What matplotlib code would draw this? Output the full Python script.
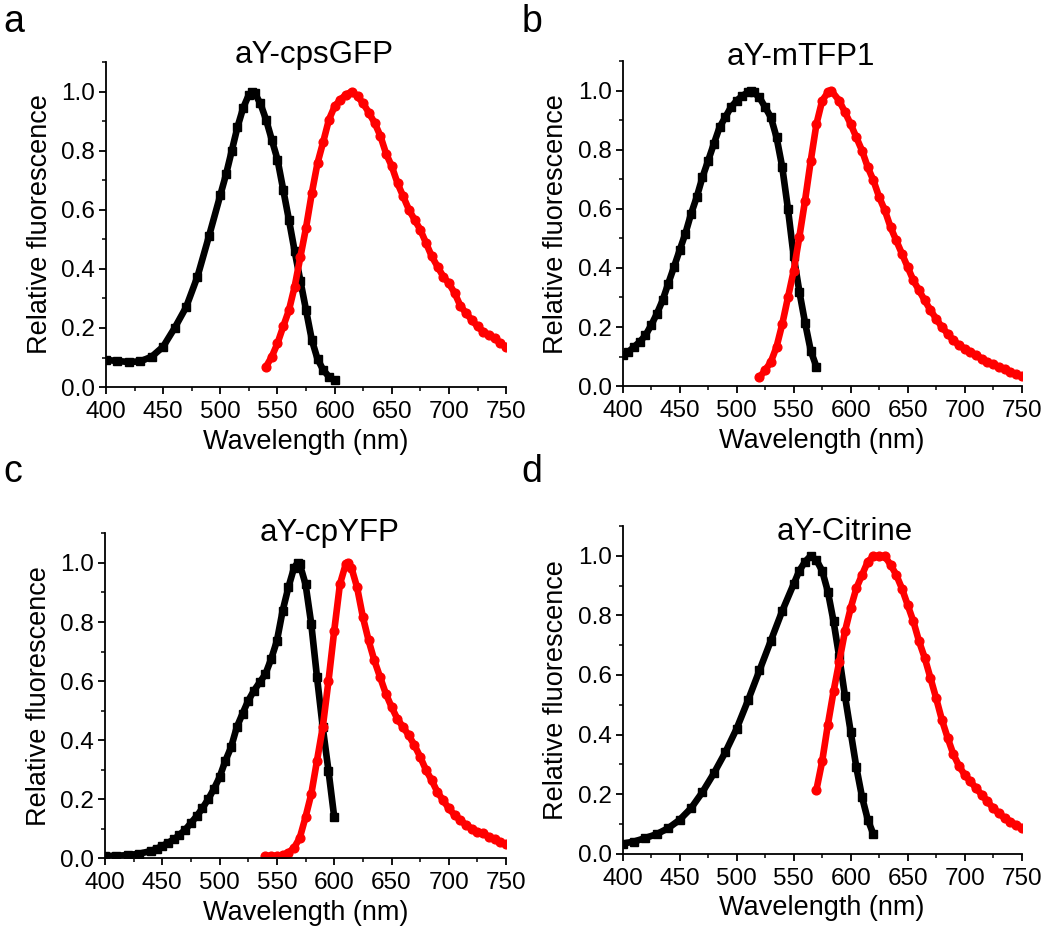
import matplotlib.pyplot as plt
import numpy as np

plt.rcParams['font.family'] = ['Liberation Sans', 'DejaVu Sans']

# ---- data (wavelength nm, relative fluorescence) ----
# a: aY-cpsGFP
a_ex_wl = [400, 410, 420, 430, 440, 450, 460, 470, 480, 490, 500, 505, 510, 515, 520, 525, 528,
           530, 535, 540, 545, 550, 555, 560, 565, 570, 575, 580, 585, 590, 595, 600]
a_ex = [0.092, 0.088, 0.085, 0.087, 0.103, 0.137, 0.2, 0.27, 0.374, 0.51, 0.65, 0.72, 0.8, 0.88, 0.945, 0.99, 1.0,
        0.995, 0.96, 0.905, 0.837, 0.77, 0.668, 0.566, 0.46, 0.36, 0.26, 0.16, 0.095, 0.058, 0.035, 0.024]
a_em_wl = [540, 545, 550, 555, 560, 565, 570, 575, 580, 585, 590, 595, 600, 605, 610, 615, 620,
           625, 630, 635, 640, 645, 650, 655, 660, 665, 670, 675, 680, 685, 690, 695, 700,
           705, 710, 715, 720, 725, 730, 735, 740, 745, 750]
a_em = [0.069, 0.103, 0.148, 0.205, 0.26, 0.34, 0.44, 0.54, 0.656, 0.758, 0.83, 0.905, 0.95, 0.973, 0.99, 1.0, 0.984,
        0.96, 0.928, 0.894, 0.85, 0.79, 0.747, 0.69, 0.645, 0.6, 0.566, 0.532, 0.487, 0.442, 0.408, 0.374, 0.351,
        0.318, 0.275, 0.25, 0.227, 0.205, 0.188, 0.176, 0.165, 0.148, 0.137]

# b: aY-mTFP1
b_ex_wl = [400, 405, 410, 415, 420, 425, 430, 435, 440, 445, 450, 455, 460, 465, 470, 475, 480,
           485, 490, 495, 500, 505, 510, 513, 515, 520, 525, 530, 535, 540, 545, 550, 555,
           560, 565, 570]
b_ex = [0.105, 0.116, 0.133, 0.15, 0.172, 0.206, 0.245, 0.29, 0.347, 0.403, 0.46, 0.516, 0.583, 0.64, 0.707, 0.763, 0.82,
        0.876, 0.91, 0.944, 0.966, 0.983, 0.994, 1.0, 0.994, 0.977, 0.944, 0.91, 0.842, 0.741, 0.6, 0.44, 0.32,
        0.215, 0.12, 0.065]
b_em_wl = [520, 525, 530, 535, 540, 545, 550, 555, 560, 565, 570, 575, 580, 583, 590, 595, 600,
           605, 610, 615, 620, 625, 630, 635, 640, 645, 650, 655, 660, 665, 670, 675, 680,
           685, 690, 695, 700, 705, 710, 715, 720, 725, 730, 735, 740, 745, 750]
b_em = [0.03, 0.054, 0.082, 0.133, 0.21, 0.3, 0.39, 0.505, 0.628, 0.763, 0.887, 0.966, 0.994, 1.0, 0.966, 0.927, 0.887,
        0.842, 0.797, 0.741, 0.696, 0.64, 0.595, 0.538, 0.493, 0.448, 0.403, 0.358, 0.324, 0.29, 0.257, 0.228, 0.2,
        0.178, 0.155, 0.139, 0.127, 0.116, 0.105, 0.093, 0.082, 0.074, 0.065, 0.059, 0.048, 0.04, 0.034]

# c: aY-cpYFP
c_ex_wl = [400, 410, 420, 430, 440, 445, 450, 455, 460, 465, 470, 475, 480, 485, 490, 495, 500,
           505, 510, 515, 520, 525, 530, 535, 540, 545, 550, 555, 560, 565, 568, 570, 575,
           580, 585, 590, 595, 600]
c_ex = [0.008, 0.009, 0.011, 0.016, 0.025, 0.033, 0.042, 0.053, 0.064, 0.08, 0.097, 0.12, 0.143, 0.17, 0.2, 0.235, 0.275,
        0.33, 0.376, 0.444, 0.49, 0.534, 0.568, 0.596, 0.624, 0.675, 0.736, 0.838, 0.917, 0.984, 1.0, 0.995, 0.928,
        0.793, 0.613, 0.444, 0.297, 0.14]
c_em_wl = [540, 545, 550, 555, 560, 565, 570, 575, 580, 585, 590, 595, 600, 605, 610, 612, 615,
           620, 625, 630, 635, 640, 645, 650, 655, 660, 665, 670, 675, 680, 685, 690, 695,
           700, 705, 710, 715, 720, 725, 730, 735, 740, 745, 750]
c_em = [0.008, 0.008, 0.009, 0.011, 0.019, 0.036, 0.07, 0.14, 0.218, 0.331, 0.444, 0.6, 0.77, 0.928, 0.995, 1.0, 0.984,
        0.917, 0.817, 0.738, 0.67, 0.614, 0.558, 0.513, 0.473, 0.445, 0.417, 0.383, 0.344, 0.3, 0.265, 0.225, 0.197,
        0.169, 0.147, 0.13, 0.113, 0.101, 0.09, 0.085, 0.073, 0.064, 0.056, 0.048]

# d: aY-Citrine
d_ex_wl = [400, 410, 420, 430, 440, 450, 460, 470, 480, 490, 500, 510, 520, 530, 540, 550, 555,
           560, 565, 570, 575, 580, 585, 590, 595, 600, 605, 610, 615, 620]
d_ex = [0.034, 0.041, 0.053, 0.066, 0.086, 0.114, 0.153, 0.207, 0.27, 0.34, 0.42, 0.515, 0.615, 0.715, 0.815, 0.905, 0.95,
        0.98, 1.0, 0.985, 0.95, 0.88, 0.78, 0.66, 0.53, 0.41, 0.29, 0.19, 0.115, 0.065]
d_em_wl = [570, 575, 580, 585, 590, 595, 600, 605, 610, 615, 620, 625, 630, 635, 640, 645, 650,
           655, 660, 665, 670, 675, 680, 685, 690, 695, 700, 705, 710, 715, 720, 725, 730,
           735, 740, 745, 750]
d_em = [0.215, 0.31, 0.433, 0.545, 0.645, 0.746, 0.824, 0.891, 0.936, 0.98, 0.998, 1.0, 0.998, 0.97, 0.936, 0.89, 0.835,
        0.78, 0.713, 0.657, 0.59, 0.522, 0.45, 0.39, 0.335, 0.295, 0.265, 0.243, 0.22, 0.198, 0.176, 0.153, 0.136,
        0.12, 0.108, 0.097, 0.088]

titles = ['aY-cpsGFP', 'aY-mTFP1', 'aY-cpYFP', 'aY-Citrine']
letters = ['a', 'b', 'c', 'd']

panels = [(a_ex_wl, a_ex, a_em_wl, a_em),
          (b_ex_wl, b_ex, b_em_wl, b_em),
          (c_ex_wl, c_ex, c_em_wl, c_em),
          (d_ex_wl, d_ex, d_em_wl, d_em)]

# axes boxes [left, bottom, width, height] in figure fractions
boxes = [[0.101, 0.582, 0.381, 0.351],
         [0.593, 0.583, 0.380, 0.351],
         [0.100, 0.073, 0.382, 0.351],
         [0.593, 0.078, 0.380, 0.354]]
title_pos = [(0.52, 0.997), (0.446, 0.988), (0.561, 0.978), (0.556, 0.957)]
letter_pos = [(0.003, 0.965), (0.497, 0.965), (0.003, 0.479), (0.497, 0.479)]

fig = plt.figure(figsize=(10.5, 9.26), dpi=100)

for i in range(4):
    ax = fig.add_axes(boxes[i])
    ex_wl, ex, em_wl, em = panels[i]
    ax.plot(ex_wl, ex, color='black', lw=4.8, marker='s', ms=5.5, solid_capstyle='round',
            solid_joinstyle='round')
    ax.plot(em_wl, em, color='red', lw=4.8, marker='o', ms=6.3, solid_capstyle='round',
            solid_joinstyle='round')

    ax.set_xlim(400, 750)
    ax.set_ylim(0, 1.1)
    ax.set_xticks(np.arange(400, 751, 50))
    ax.set_xticks(np.arange(400, 751, 25), minor=True)
    ax.set_yticks(np.arange(0, 1.01, 0.2))
    ax.set_yticks(np.arange(0, 1.11, 0.1), minor=True)
    ax.set_yticklabels(['0.0', '0.2', '0.4', '0.6', '0.8', '1.0'])

    ax.spines['top'].set_visible(False)
    ax.spines['right'].set_visible(False)
    ax.spines['left'].set_linewidth(1.3)
    ax.spines['bottom'].set_linewidth(1.3)
    ax.tick_params(which='major', direction='out', length=5, width=1.3, labelsize=17.5)
    ax.tick_params(axis='x', which='major', pad=5)
    ax.tick_params(axis='y', which='major', pad=3)
    ax.tick_params(which='minor', direction='out', length=3, width=1.1)

    ax.set_xlabel('Wavelength (nm)', fontsize=19.5, labelpad=4)
    ax.set_ylabel('Relative fluorescence', fontsize=19.5, labelpad=6)
    ax.text(title_pos[i][0], title_pos[i][1], titles[i], transform=ax.transAxes,
            ha='center', va='baseline', fontsize=22.5)

    fig.text(letter_pos[i][0], letter_pos[i][1], letters[i], fontsize=27, va='baseline', ha='left')

fig.savefig('out.png', dpi=100)
